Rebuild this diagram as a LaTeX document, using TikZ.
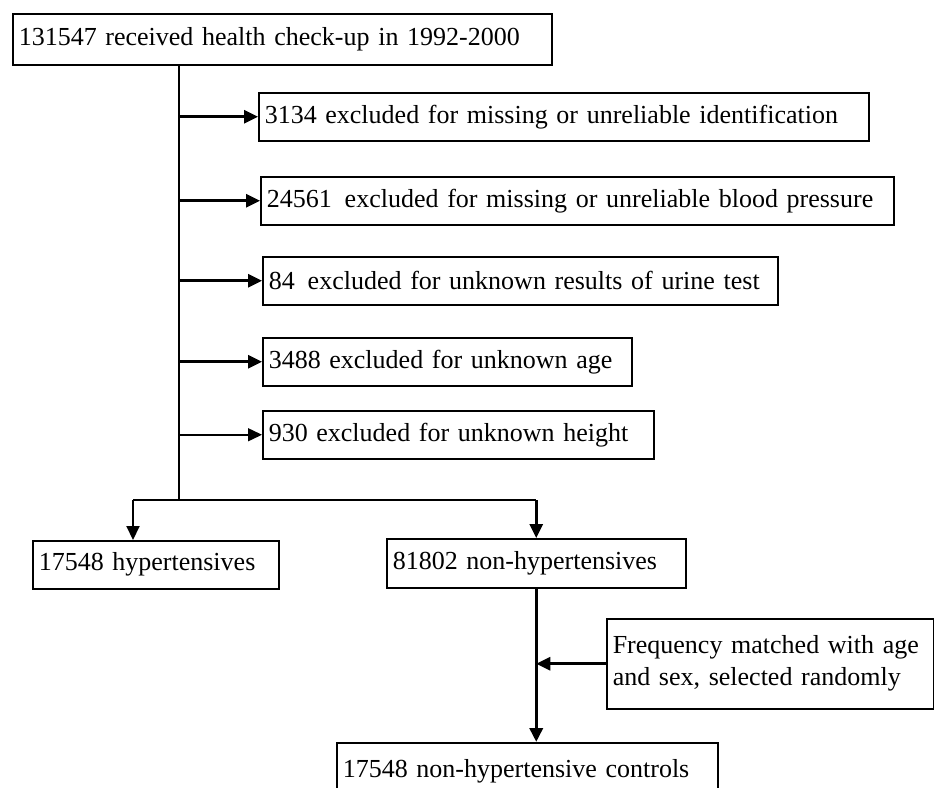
\documentclass[tikz,border=0pt]{standalone}
\usepackage{fontspec}
\setmainfont{Liberation Serif}
\usetikzlibrary{positioning,arrows.meta}

\tikzset{
  box/.style={draw, line width=1.5pt, anchor=north west, align=left,
    inner xsep=6pt, inner ysep=0pt,
    font=\fontsize{26}{32}\selectfont},
  tip/.style={-{Triangle[length=14pt,width=13pt]}},
  thinArrow/.style={line width=1.5pt, tip},
  thickArrow/.style={line width=3pt, tip}
}

\begin{document}
\begin{tikzpicture}[x=1pt, y=-1pt]
  \useasboundingbox (0, 0) rectangle (934, 787);
  \node[box, text width=527pt, minimum height=51pt] (checkUp) at (12, 13)
    {131547 received health check-up in 1992-2000};
  \node[box, text width=598pt, minimum height=48pt] (exclId) at (258, 92)
    {3134 excluded for missing or unreliable identification};
  \node[box, text width=621pt, minimum height=48pt] (exclPressure) at (260, 176)
    {24561\, excluded for missing or unreliable blood pressure};
  \node[box, text width=503pt, minimum height=48pt] (exclUrine) at (262, 256)
    {84\, excluded for unknown results of urine test};
  \node[box, text width=357pt, minimum height=48pt] (exclAge) at (262, 337)
    {3488 excluded for unknown age};
  \node[box, text width=379pt, minimum height=48pt] (exclHeight) at (262, 410)
    {930 excluded for unknown height};
  \node[box, text width=234pt, minimum height=48pt] (hyper) at (32, 540)
    {17548 hypertensives};
  \node[box, text width=287pt, minimum height=49pt] (nonHyper) at (386, 538)
    {81802 non-hypertensives};
  \node[box, text width=315pt, minimum height=90pt] (matching) at (606, 618)
    {Frequency matched with age\\and sex, selected randomly};
  \node[box, text width=369pt, minimum height=58pt] (controls) at (336, 742)
    {17548 non-hypertensive controls};

  % trunk and exclusions
  \coordinate (split) at (179, 500);
  \coordinate (leftDrop) at (133, 500);
  \draw[line width=1.5pt] (split |- checkUp.south) -- (split);
  \foreach \excl in {exclId, exclPressure, exclUrine, exclAge}
    \draw[thickArrow] (split |- \excl.west) -- (\excl.west);
  \draw[thinArrow] (split |- exclHeight.west) -- (exclHeight.west);

  % split into the two groups
  \draw[line width=1.5pt] (leftDrop) -- (split -| nonHyper.north);
  \draw[line width=2pt, tip] (leftDrop) -- (leftDrop |- hyper.north);
  \draw[thickArrow] (split -| nonHyper.north) -- (nonHyper.north);
  \draw[line width=3.5pt, tip]
    (nonHyper.south) -- (nonHyper.south |- controls.north);
  \draw[thickArrow] (matching.west) -- (matching.west -| nonHyper.south);
\end{tikzpicture}
\end{document}
